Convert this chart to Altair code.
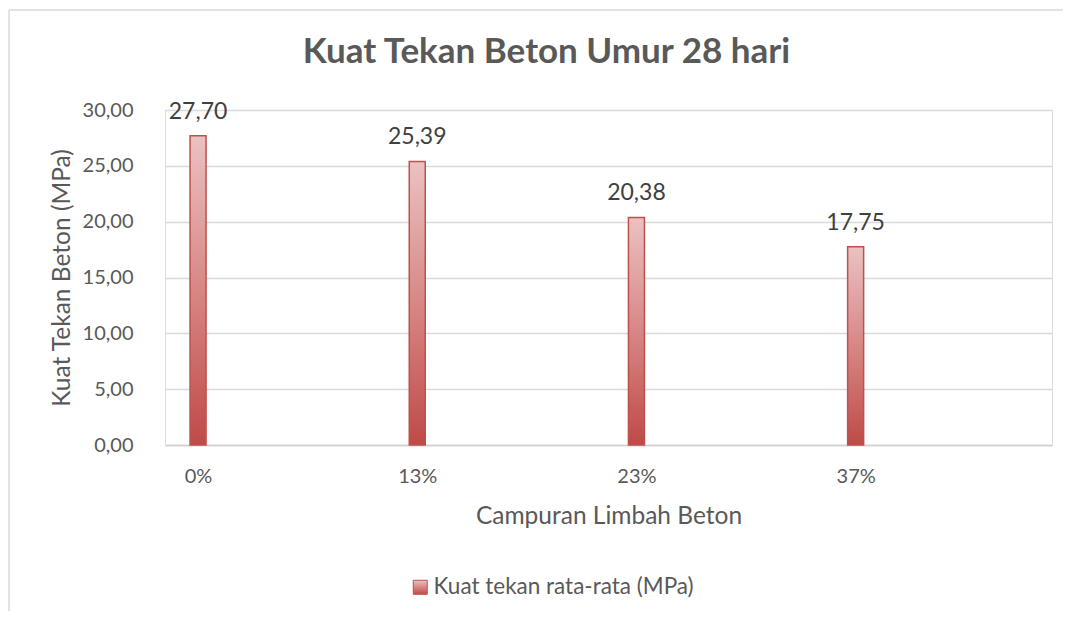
import altair as alt
import pandas as pd

categories = ["0%", "13%", "23%", "37%"]
values = [27.70, 25.39, 20.38, 17.75]
series_name = "Kuat tekan rata-rata (MPa)"
y_ticks = [0, 5, 10, 15, 20, 25, 30]

df = pd.DataFrame({
    "idx": list(range(len(categories))),
    "kategori": categories,
    "nilai": values,
    "seri": [series_name] * len(categories),
})

FONT = "Lato"
TXT = "#595959"
W, H = 887, 335
PAD = {"left": 157, "top": 102, "right": 11, "bottom": 166}

cat_js = "[" + ",".join("'" + c + "'" for c in categories) + "]"

grad = alt.LinearGradient(
    gradient="linear",
    stops=[
        alt.GradientStop(color="#eac2c1", offset=0),
        alt.GradientStop(color="#d5817f", offset=0.55),
        alt.GradientStop(color="#bf4a47", offset=1),
    ],
    x1=0, x2=0, y1=0, y2=1,
)

x_enc = alt.X(
    "idx:Q",
    scale=alt.Scale(domain=[-0.128, 3.873], nice=False, zero=False),
    axis=alt.Axis(
        values=list(range(len(categories))),
        labelExpr=cat_js + "[datum.value]",
        title="Campuran Limbah Beton",
        grid=False, ticks=False, domain=True,
        domainColor="#d0d0d0", domainWidth=1.5,
        labelFont=FONT, labelFontSize=20, labelColor=TXT,
        labelBaseline="alphabetic", labelPadding=37,
        titleFont=FONT, titleFontSize=24.5, titleFontWeight="normal",
        titleColor=TXT, titleBaseline="middle",
        titleX=W / 2, titleY=71, titleAnchor="middle",
    ),
)
y_enc = alt.Y(
    "nilai:Q",
    scale=alt.Scale(domain=[0, 30], nice=False),
    axis=alt.Axis(
        values=y_ticks,
        labelExpr="replace(format(datum.value, '.2f'), '.', ',')",
        title="Kuat Tekan Beton (MPa)",
        grid=True, gridColor="#d9d9d9", gridWidth=1.5,
        ticks=False, domain=False,
        labelFont=FONT, labelFontSize=20, labelColor=TXT,
        labelPadding=32, labelBaseline="middle",
        titleFont=FONT, titleFontSize=24.5, titleFontWeight="normal",
        titleColor=TXT, titleAngle=-90, titleBaseline="middle",
        titleAlign="center", titleX=-103, titleY=H / 2,
    ),
)

base = alt.Chart(df)

bars = base.mark_bar(size=16, fill=grad, strokeWidth=1.5).encode(
    x=x_enc,
    y=y_enc,
    stroke=alt.Stroke(
        "seri:N",
        scale=alt.Scale(range=["#c0504d"]),
        legend=alt.Legend(
            title=None, orient="none", legendX=244, legendY=466,
            symbolType="square", symbolSize=196,
            symbolFillColor="#c0504d", symbolStrokeColor="#a83e3b",
            symbolStrokeWidth=1, symbolOffset=0, labelLimit=0,
            labelFont=FONT, labelFontSize=22.5, labelColor=TXT, labelOffset=2,
        ),
    ),
)

labels = base.transform_calculate(
    lbl="replace(format(datum.nilai, '.2f'), '.', ',')"
).mark_text(
    font=FONT, fontSize=23, color="#404040", baseline="alphabetic", dy=-17
).encode(x="idx:Q", y="nilai:Q", text="lbl:N")

frame_data = alt.Data(values=[{"k": 0}])
frame_top = alt.Chart(frame_data).mark_rule(color="#d9d9d9", strokeWidth=1.5).encode(
    x=alt.value(-156), x2=alt.value(W + 20), y=alt.value(-100)
)
frame_left = alt.Chart(frame_data).mark_rule(color="#d9d9d9", strokeWidth=1.5).encode(
    x=alt.value(-156), y=alt.value(-100), y2=alt.value(H + 170)
)

chart = alt.layer(frame_top, frame_left, bars, labels).properties(
    width=W, height=H,
    autosize=alt.AutoSizeParams(type="none"),
    padding=PAD,
    title=alt.TitleParams(
        "Kuat Tekan Beton Umur 28 hari",
        font=FONT, fontSize=35, fontWeight="bold", color=TXT,
        anchor="middle", frame="group", baseline="alphabetic",
        offset=-89, dx=-62,
    ),
).configure_view(stroke=None).configure(background="white")

chart.save("out.html", embed_options={"renderer": "svg", "actions": False})
